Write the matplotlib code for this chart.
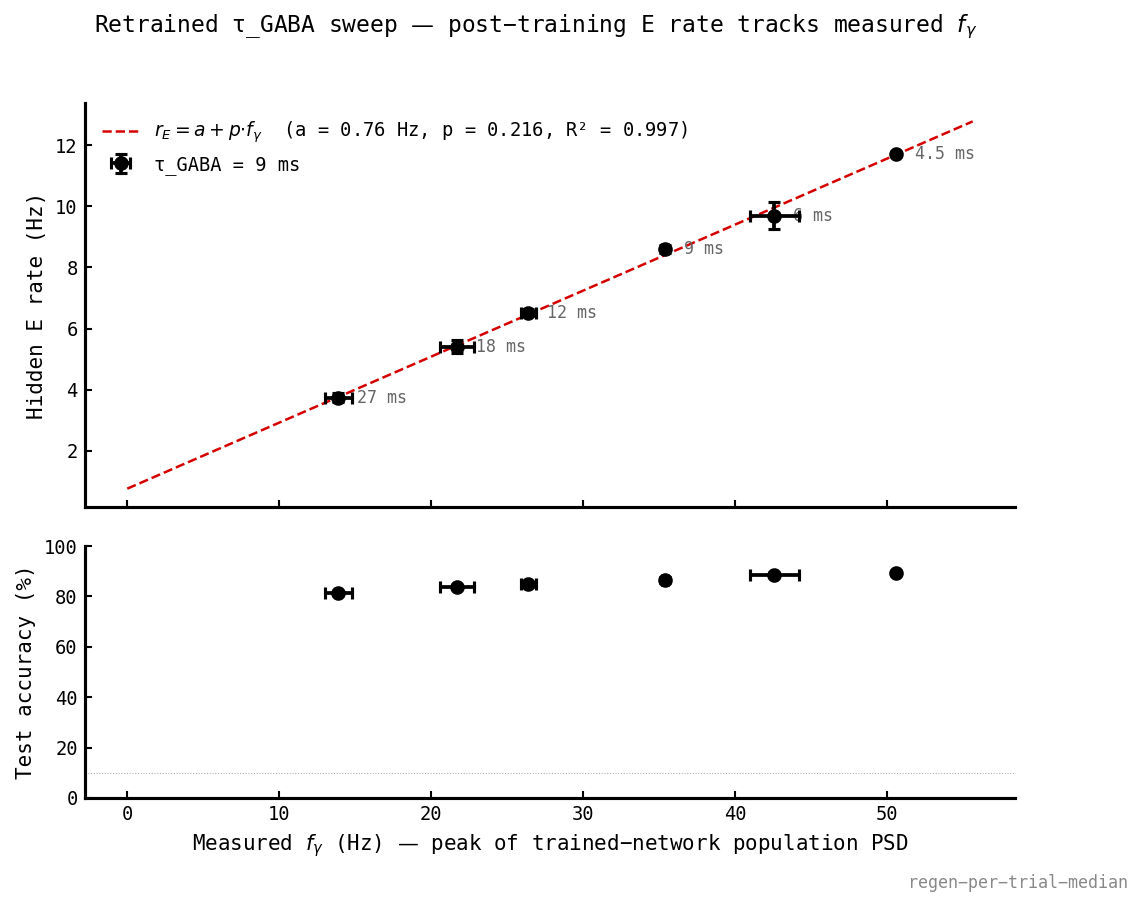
import numpy as np
import matplotlib
matplotlib.use('Agg')
import matplotlib.pyplot as plt

plt.rcParams['font.family'] = ['DejaVu Sans Mono', 'DejaVu Sans']
plt.rcParams['mathtext.fontset'] = 'dejavusans'

tau_labels = ['27 ms', '18 ms', '12 ms', '9 ms', '6 ms', '4.5 ms']
f_gamma = [13.9, 21.7, 26.4, 35.4, 42.6, 50.6]
f_gamma_err = [0.9, 1.1, 0.5, 0.2, 1.6, 0.1]
rate_e = [3.74, 5.41, 6.52, 8.62, 9.70, 11.70]
rate_e_err = [0.15, 0.22, 0.12, 0.13, 0.43, 0.05]
accuracy = [81.3, 83.7, 84.9, 86.5, 88.5, 89.3]
accuracy_err = [0.6, 0.8, 1.0, 1.2, 0.8, 0.7]
fit_a, fit_p, fit_r2 = 0.76, 0.216, 0.997
chance = 10.0

fig = plt.figure(figsize=(1144 / 150, 907 / 150), dpi=150)
ax1 = fig.add_axes([0.0743, 0.441, 0.8129, 0.4454])
ax2 = fig.add_axes([0.0743, 0.1202, 0.8129, 0.2778], sharex=ax1)

xfit = np.linspace(0, max(f_gamma) * 1.1, 100)
ax1.plot(xfit, fit_a + fit_p * xfit, '--', color='#d40000', lw=1.2,
         label=r'$r_E = a + p{\cdot}f_\gamma$' + '  (a = %.2f Hz, p = %.3f, R² = %.3f)' % (fit_a, fit_p, fit_r2))

for i in range(len(f_gamma)):
    lab = 'τ_GABA = 9 ms' if tau_labels[i] == '9 ms' else None
    ax1.errorbar(f_gamma[i], rate_e[i], xerr=f_gamma_err[i], yerr=rate_e_err[i],
                 fmt='o', color='black', ms=6, elinewidth=1.8, capsize=3, capthick=1.5,
                 label=lab, zorder=4)
    ax1.annotate(tau_labels[i], (f_gamma[i], rate_e[i]), xytext=(9, 0),
                 textcoords='offset points', va='center', ha='left',
                 fontsize=8, color='#666666')
    ax2.errorbar(f_gamma[i], accuracy[i], xerr=f_gamma_err[i], yerr=accuracy_err[i],
                 fmt='o', color='black', ms=6, elinewidth=1.8, capsize=3, capthick=1.5,
                 zorder=4)

ax2.axhline(chance, color='#aaaaaa', lw=0.5, ls=':')

ax1.set_ylabel('Hidden E rate (Hz)', fontsize=10)
ax1.set_yticks([2, 4, 6, 8, 10, 12])
ax1.legend(loc='upper left', frameon=False, fontsize=9)
plt.setp(ax1.get_xticklabels(), visible=False)

ax2.set_ylim(0, 100)
ax2.set_yticks([0, 20, 40, 60, 80, 100])
ax2.set_ylabel('Test accuracy (%)', fontsize=10)
ax2.set_xlabel('Measured $f_\\gamma$ (Hz) — peak of trained\u2212network population PSD', fontsize=10)
ax2.set_xticks([0, 10, 20, 30, 40, 50])

for ax in (ax1, ax2):
    ax.spines['top'].set_visible(False)
    ax.spines['right'].set_visible(False)
    ax.spines['left'].set_linewidth(1.5)
    ax.spines['bottom'].set_linewidth(1.5)
    ax.tick_params(direction='in', length=3.5, width=1, labelsize=9)

fig.text(0.4685, 0.970, 'Retrained τ_GABA sweep — post\u2212training E rate tracks measured $f_\\gamma$',
         ha='center', va='center', fontsize=11)
fig.text(0.986, 0.026, 'regen\u2212per\u2212trial\u2212median', ha='right', va='center',
         fontsize=8, color='#888888')

fig.savefig('out.png', dpi=150)
